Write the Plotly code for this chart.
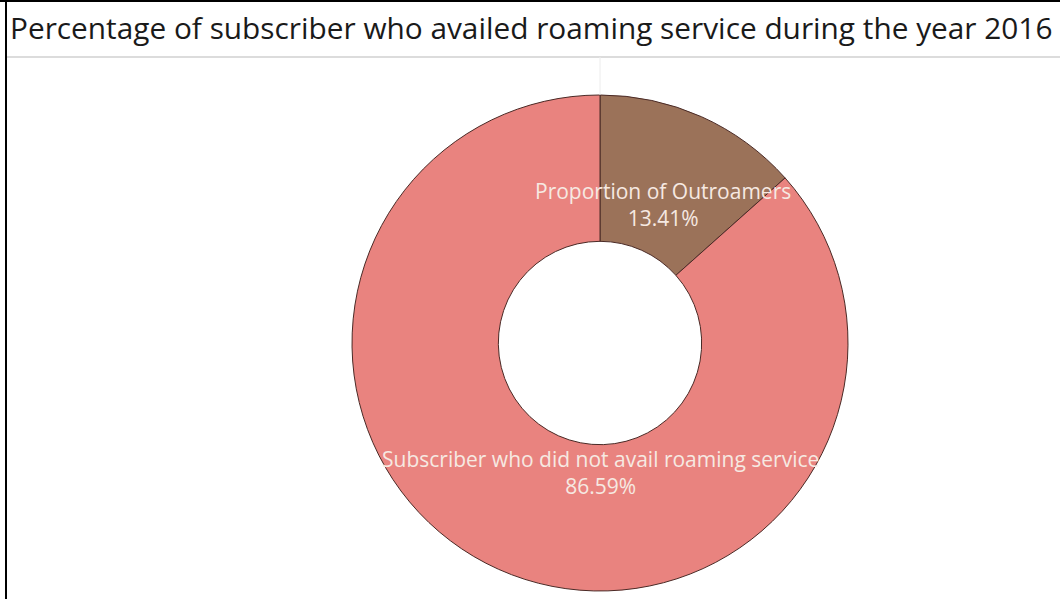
import plotly.graph_objects as go

# Share of subscribers by roaming usage, 2016
labels = ["Proportion of Outroamers", "Subscriber who did not avail roaming service"]
values = [13.41, 86.59]
colors = ["#9B7259", "#E9837F"]
title_text = "Percentage of subscriber who availed roaming service during the year 2016"

W, H = 1060, 599


def px_x(x):
    return x / W


def px_y(y):
    return 1 - y / H


# donut geometry in pixels
cx, cy, r = 600, 343, 248

fig = go.Figure(
    go.Pie(
        labels=labels,
        values=values,
        hole=0.41,
        sort=False,
        direction="clockwise",
        rotation=0,
        marker=dict(colors=colors, line=dict(color="#4a2a26", width=1)),
        textinfo="none",
        hoverinfo="label+percent",
        showlegend=False,
        domain=dict(x=[px_x(cx - r), px_x(cx + r)], y=[px_y(cy + r), px_y(cy - r)]),
    )
)

total = sum(values)
label_pos = [(663, 205), (600, 472)]
annotations = [
    dict(
        text=f"{lab}<br>{val / total * 100:.2f}%",
        x=px_x(x), y=px_y(y), xref="paper", yref="paper",
        showarrow=False, xanchor="center", yanchor="middle",
        font=dict(family="Open Sans", size=21, color="#F6E9E2"),
        align="center",
    )
    for lab, val, (x, y) in zip(labels, values, label_pos)
]
annotations.append(
    dict(
        text=title_text, x=px_x(8), y=px_y(27), xref="paper", yref="paper",
        showarrow=False, xanchor="left", yanchor="middle",
        font=dict(family="Open Sans", size=29.8, color="#1a1a1a"),
    )
)

shapes = [
    # frame lines
    dict(type="line", xref="paper", yref="paper", x0=0, x1=1, y0=px_y(1), y1=px_y(1),
         line=dict(color="#000000", width=2)),
    dict(type="line", xref="paper", yref="paper", x0=px_x(6), x1=px_x(6), y0=0, y1=1,
         line=dict(color="#000000", width=2)),
    dict(type="line", xref="paper", yref="paper", x0=px_x(7), x1=1, y0=px_y(57), y1=px_y(57),
         line=dict(color="#d0d0d0", width=1.5)),
    dict(type="line", xref="paper", yref="paper", x0=px_x(600), x1=px_x(600), y0=px_y(57), y1=px_y(cy - r),
         line=dict(color="#ececec", width=1)),
]

fig.update_layout(
    width=W, height=H,
    margin=dict(l=0, r=0, t=0, b=0),
    paper_bgcolor="#ffffff", plot_bgcolor="#ffffff",
    annotations=annotations,
    shapes=shapes,
)

fig.write_html("out.html")
